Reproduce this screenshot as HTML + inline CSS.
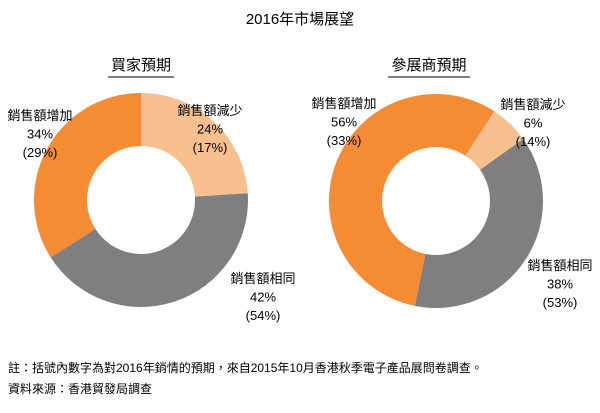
<!DOCTYPE html>
<html><head><meta charset="utf-8"><style>
body{margin:0;background:#fff;font-family:"Liberation Sans","Noto Sans CJK TC",sans-serif;color:#222}
#wrap{position:relative;width:600px;height:413px;overflow:hidden}
svg{position:absolute;left:0;top:0}
</style></head><body><div id="wrap">
<svg id="svg" width="600" height="413">
<text x="300" y="24" text-anchor="middle" font-size="15">2016年市場展望</text>
<text x="141" y="70" text-anchor="middle" font-size="15">買家預期</text>
<line x1="108" y1="77" x2="174" y2="77" stroke="#555" stroke-width="1.5"/>
<text x="429" y="70" text-anchor="middle" font-size="15">參展商預期</text>
<line x1="388" y1="77" x2="470" y2="77" stroke="#555" stroke-width="1.5"/>
<text x="8" y="372" font-size="12">註：括號內數字為對2016年銷情的預期，來自2015年10月香港秋季電子產品展問卷調查。</text>
<text x="8" y="393" font-size="12">資料來源：香港貿發局調查</text>
<g id="marks"></g>
</svg></div>
<script>
const categories=["銷售額減少","銷售額相同","銷售額增加"];
const buyerValues=[24,42,34];
const buyerPrev=[17,54,29];
const exhibitorValues=[6,38,56];
const exhibitorPrev=[14,53,33];
const colors=["#f9c08f","#7f7f7f","#f58b33"];
const NS="http://www.w3.org/2000/svg";
const g=document.getElementById('marks');
function pt(cx,cy,r,a){const t=(a-90)*Math.PI/180;return [cx+r*Math.cos(t),cy+r*Math.sin(t)];}
function donut(name,vals,prev,cx,cy,start,labelPos){
  const R=107,r=54;const tot=vals.reduce((a,b)=>a+b,0);let a=start;
  vals.forEach((v,i)=>{
    const a2=a+v/tot*360;const large=(a2-a)>180?1:0;
    const [x1,y1]=pt(cx,cy,R,a),[x2,y2]=pt(cx,cy,R,a2),[x3,y3]=pt(cx,cy,r,a2),[x4,y4]=pt(cx,cy,r,a);
    const p=document.createElementNS(NS,'path');
    p.setAttribute('d',`M${x1},${y1}A${R},${R} 0 ${large} 1 ${x2},${y2}L${x3},${y3}A${r},${r} 0 ${large} 0 ${x4},${y4}Z`);
    p.setAttribute('fill',colors[i]);
    
    
    g.appendChild(p);a=a2;
  });
  vals.forEach((v,i)=>{
    const [lx,ly]=labelPos[i];
    [categories[i],v+'%','('+prev[i]+'%)'].forEach((s,k)=>{
      const t=document.createElementNS(NS,'text');
      t.setAttribute('x',lx);t.setAttribute('y',ly+k*18.5);
      t.setAttribute('text-anchor','middle');t.setAttribute('font-size','13');
      t.textContent=s;
      
      
      g.appendChild(t);
    });
  });
}
donut('buyer',buyerValues,buyerPrev,141,200,0,[[210,115],[263,283],[40,120]]);
donut('exhibitor',exhibitorValues,exhibitorPrev,436,201,33,[[533,109],[560,270],[344,108]]);
</script></body></html>
